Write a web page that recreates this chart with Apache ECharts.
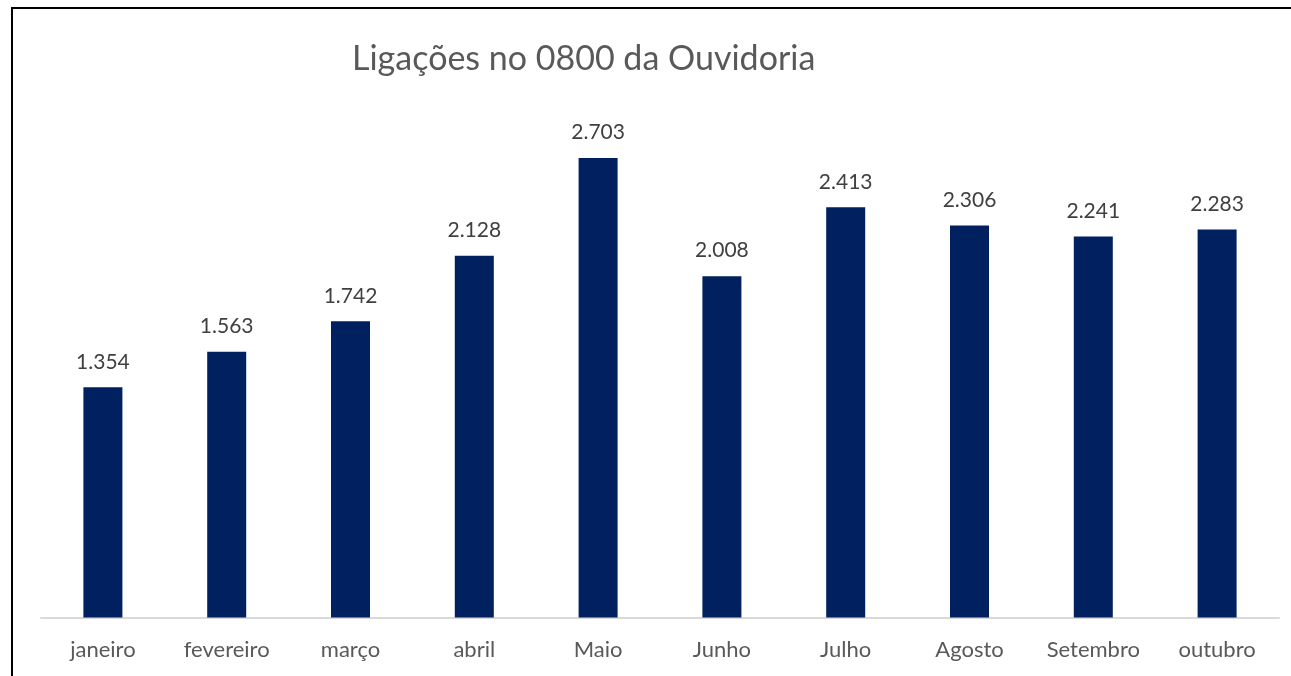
<!DOCTYPE html>
<html>
<head>
<meta charset="utf-8">
<script src="https://cdn.jsdelivr.net/npm/echarts@6/dist/echarts.min.js"></script>
<style>
  html, body { margin: 0; padding: 0; background: #fff; }
  #main { width: 1291px; height: 676px; }
</style>
</head>
<body>
<div id="main"></div>
<script>
var months = ['janeiro', 'fevereiro', 'março', 'abril', 'Maio', 'Junho', 'Julho', 'Agosto', 'Setembro', 'outubro'];
var calls = [1354, 1563, 1742, 2128, 2703, 2008, 2413, 2306, 2241, 2283];

var chartDom = document.getElementById('main');
var myChart = echarts.init(chartDom, null);
var option;

function fmt(v) {
  return String(v).replace(/\B(?=(\d{3})+(?!\d))/g, '.');
}

option = {
  animation: false,
  textStyle: {
    fontFamily: 'Lato'
  },
  title: {
    text: 'Ligações no 0800 da Ouvidoria',
    left: 347,
    top: 37,
    textStyle: {
      fontFamily: 'Lato',
      fontSize: 34,
      fontWeight: 'normal',
      color: '#595959'
    }
  },
  graphic: [
    {
      type: 'rect',
      shape: { x: 12, y: 8, width: 1400, height: 800 },
      style: { fill: 'none', stroke: '#000', lineWidth: 2 },
      silent: true
    }
  ],
  grid: {
    left: 41,
    right: 12,
    top: 107.5,
    bottom: 58.5
  },
  xAxis: {
    type: 'category',
    data: months,
    axisLine: { lineStyle: { color: '#d9d9d9', width: 2 } },
    axisTick: { show: false },
    axisLabel: {
      color: '#595959',
      fontSize: 22,
      margin: 21
    }
  },
  yAxis: {
    type: 'value',
    min: 0,
    max: 3000,
    show: false,
    splitLine: { show: false }
  },
  series: [
    {
      type: 'bar',
      data: calls,
      barWidth: 39,
      itemStyle: { color: '#002060' },
      label: {
        show: true,
        position: 'top',
        distance: 15,
        color: '#404040',
        fontSize: 21,
        formatter: function (p) { return fmt(p.value); }
      }
    }
  ]
};

myChart.setOption(option);
</script>
</body>
</html>
